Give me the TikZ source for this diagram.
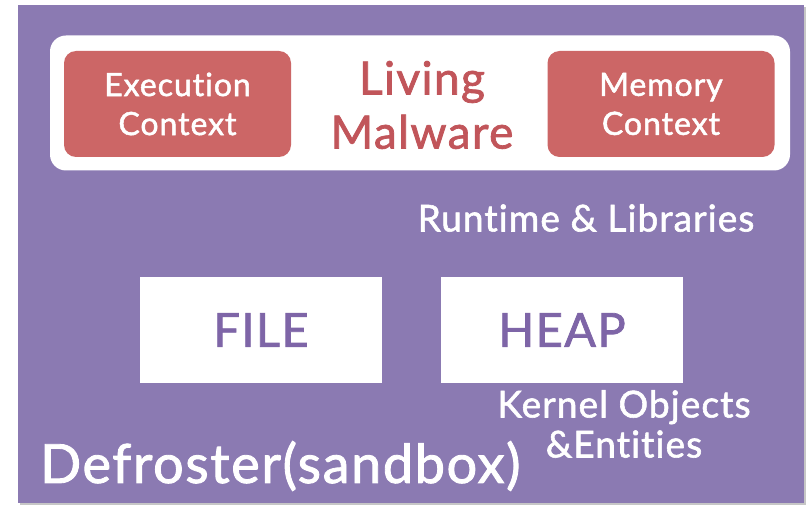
\documentclass[tikz,border=0pt]{standalone}
\usepackage{fontspec}
\setmainfont{Lato}[Ligatures=NoCommon, FakeBold=1.6, LetterSpace=3]
\usepackage{tikz}
\usetikzlibrary{positioning}

\definecolor{sandpurple}{HTML}{8B7AB2}
\definecolor{ctxred}{HTML}{CC6666}
\definecolor{livered}{HTML}{C1555A}
\definecolor{boxtext}{HTML}{7E65A7}

\begin{document}
\begin{tikzpicture}[
    x=1pt, y=-1pt,
    % styles de boîtes
    ctx/.style     = {rectangle, rounded corners=12pt, fill=ctxred, text=white,
                      minimum width=227pt, minimum height=106pt, align=center,
                      font=\fontsize{32}{39}\selectfont},
    store/.style   = {rectangle, fill=white, text=boxtext,
                      minimum width=242pt, minimum height=106pt, align=center,
                      font=\fontsize{47}{50}\selectfont},
    whitetxt/.style= {text=white, align=center, inner sep=0pt},
]
\useasboundingbox (0,0) rectangle (809,505);

% ── Fond : sandbox ───────────────────────────────────────────────────────────
\fill[gray!45] (20,7) rectangle (806,505);
\fill[sandpurple] (18,5) rectangle (804,503);

% ── Bandeau : Living Malware ─────────────────────────────────────────────────
\node[rectangle, rounded corners=16pt, fill=white, minimum width=740pt,
      minimum height=135pt] (band) at (420,103) {};

\node[ctx] (exec) at (177.5,104) {Execution\\Context};
\node[ctx] (mem)  at (661,104)   {Memory\\Context};

\node[text=livered, align=center, font=\fontsize{46}{54}\selectfont]
    (living) at (422,105) {Living\\Malware};

% ── Runtime ──────────────────────────────────────────────────────────────────
\node[whitetxt, font=\fontsize{37}{39}\selectfont] (runtime) at (586,218)
    {Runtime \& Libraries};

% ── FILE / HEAP ──────────────────────────────────────────────────────────────
\node[store] (file) at (261,330) {FILE};
\node[store] (heap) at (562,330) {HEAP};

\node[whitetxt, font=\fontsize{37}{40}\selectfont] (kernel) at (624,424)
    {Kernel Objects\\\&Entities};

% ── Légende ──────────────────────────────────────────────────────────────────
\node[whitetxt, anchor=west, font=\fontsize{54}{60}\selectfont]
    (defroster) at (40,466) {Defroster(sandbox)};

\end{tikzpicture}
\end{document}
